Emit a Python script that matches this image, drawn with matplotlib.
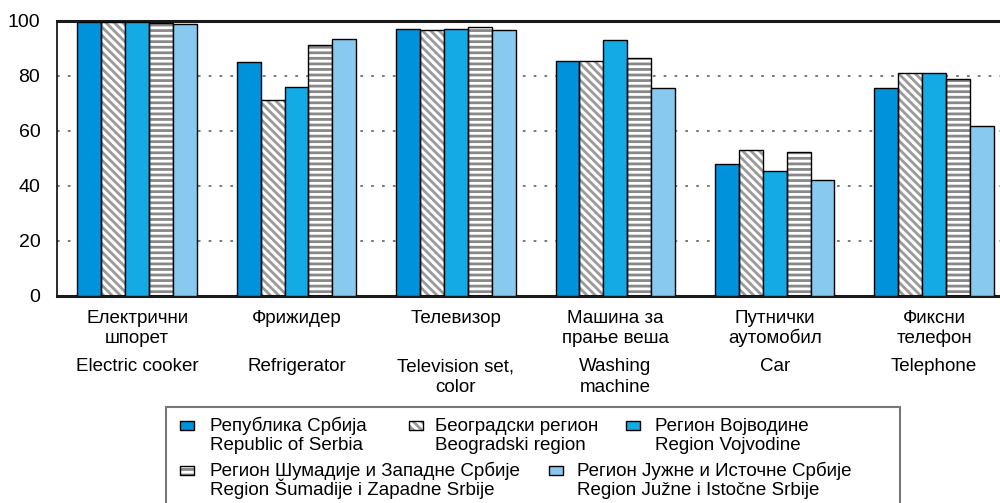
import matplotlib
matplotlib.use('Agg')
import matplotlib.pyplot as plt
from matplotlib.patches import Rectangle
from matplotlib.transforms import blended_transform_factory
import numpy as np

plt.rcParams['font.family'] = ['Liberation Sans', 'DejaVu Sans']
plt.rcParams['hatch.linewidth'] = 2.0

# ---- data ----
cat_sr = [["Електрични", "шпорет"], ["Фрижидер"], ["Телевизор"],
          ["Машина за", "прање веша"], ["Путнички", "аутомобил"], ["Фиксни", "телефон"]]
cat_en = [["Electric cooker"], ["Refrigerator"], ["Television set,", "color"],
          ["Washing", "machine"], ["Car"], ["Telephone"]]

serbia    = [99.4, 85.1, 97.1, 85.4, 48.1, 75.5]
beograd   = [99.4, 71.3, 96.7, 85.4, 52.9, 81.0]
vojvodina = [99.4, 75.9, 97.0, 93.0, 45.4, 81.1]
sumadija  = [99.0, 91.2, 97.7, 86.5, 52.4, 78.9]
jug       = [98.7, 93.5, 96.6, 75.4, 42.3, 61.7]

series_names = [
    ("Република Србија", "Republic of Serbia"),
    ("Београдски регион", "Beogradski region"),
    ("Регион Војводине", "Region Vojvodine"),
    ("Регион Шумадије и Западне Србије", "Region Šumadije i Zapadne Srbije"),
    ("Регион Јужне и Источне Србије", "Region Južne i Istočne Srbije"),
]
yticks = [0, 20, 40, 60, 80, 100]

# ---- styles ----
styles = [
    dict(color="#0092db", hatch=None, hc=None),
    dict(color="white", hatch="\\\\\\\\", hc="#9a9a9a"),
    dict(color="#14aae6", hatch=None, hc=None),
    dict(color="white", hatch="---", hc="#888888"),
    dict(color="#88c9f0", hatch=None, hc=None),
]

W, H = 1000, 503
fig = plt.figure(figsize=(W / 100, H / 100), dpi=100)

def fx(x):
    return x / W

def fy(y):
    return 1 - y / H

ax = fig.add_axes([fx(57), fy(296), fx(1000) - fx(57) + 0.001, fy(20.7) - fy(296)])

x = np.arange(len(cat_sr))
bw = 0.15
all_series = [serbia, beograd, vojvodina, sumadija, jug]
for i, (vals, st) in enumerate(zip(all_series, styles)):
    pos = x + (i - 2) * bw
    if st["hatch"]:
        ax.bar(pos, vals, bw, color=st["color"], hatch=st["hatch"],
               edgecolor=st["hc"], linewidth=0, zorder=2)
        ax.bar(pos, vals, bw, fill=False, edgecolor="black", linewidth=1.0, zorder=3)
    else:
        ax.bar(pos, vals, bw, color=st["color"], edgecolor="black", linewidth=1.0, zorder=3)

ax.set_ylim(0, 100)
ax.set_xlim(-0.503, 5.42)
ax.set_xticks([])
ax.set_yticks(yticks)
ax.set_yticklabels([str(t) for t in yticks], fontsize=14)
ax.tick_params(axis='y', length=0, pad=12)
for t in [20, 40, 60, 80]:
    ax.axhline(t, color="#707070", linestyle=(0, (1.5, 4.5)), linewidth=1.3, zorder=1)

ax.spines['right'].set_visible(False)
ax.spines['top'].set_linewidth(2.2)
ax.spines['bottom'].set_linewidth(2.2)
ax.spines['left'].set_linewidth(1.3)
for s in ax.spines.values():
    s.set_color("#1a1a1a")

# category labels
tr = blended_transform_factory(ax.transData, fig.transFigure)
for i in range(len(cat_sr)):
    for j, line in enumerate(cat_sr[i]):
        ax.text(x[i], fy(323 + 20 * j), line, transform=tr, ha='center',
                va='baseline', fontsize=13.5)
    for j, line in enumerate(cat_en[i]):
        ax.text(x[i], fy(371 + 21 * j), line, transform=tr, ha='center',
                va='baseline', fontsize=13.5)

# legend box
fig.add_artist(Rectangle((fx(166), fy(520)), fx(900) - fx(166), fy(407) - fy(520),
                         transform=fig.transFigure, fill=False, edgecolor="#777777",
                         linewidth=1.5))
leg_pos = [(180, 421, 210), (409, 421, 435), (626, 421, 655), (180, 466, 210), (549, 466, 577)]
for (mx, my, tx), st, (sr, en) in zip(leg_pos, styles, series_names):
    if st["hatch"]:
        fig.add_artist(Rectangle((fx(mx), fy(my + 9)), 14 / W, 9 / H, transform=fig.transFigure,
                                 facecolor="white", hatch=st["hatch"], edgecolor=st["hc"],
                                 linewidth=0))
        fig.add_artist(Rectangle((fx(mx), fy(my + 9)), 14 / W, 9 / H, transform=fig.transFigure,
                                 fill=False, edgecolor="black", linewidth=1.0))
    else:
        fig.add_artist(Rectangle((fx(mx), fy(my + 9)), 14 / W, 9 / H, transform=fig.transFigure,
                                 facecolor=st["color"], edgecolor="black", linewidth=1.0))
    fig.text(fx(tx), fy(my + 10), sr, ha='left', va='baseline', fontsize=13.5)
    fig.text(fx(tx), fy(my + 29), en, ha='left', va='baseline', fontsize=13.5)

fig.savefig("out.png", dpi=100)
